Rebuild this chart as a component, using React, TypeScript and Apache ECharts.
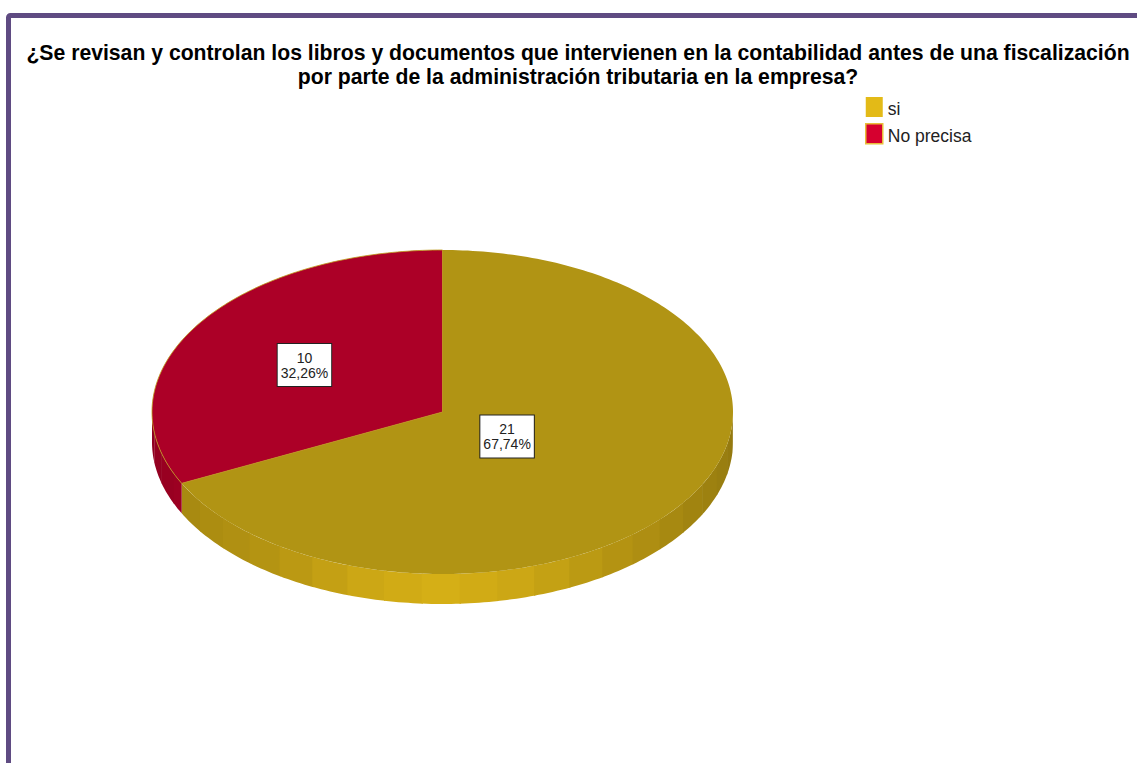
import React, { useEffect, useRef } from "react";
import * as echarts from "echarts";

const titleLines = [
  "¿Se revisan y controlan los libros y documentos que intervienen en la contabilidad antes de una fiscalización",
  "por parte de la administración tributaria en la empresa?",
];
const categories = ["si", "No precisa"];
const counts = [21, 10];
const legendColors = ["#E3BA17", "#D6002F"];
const topColors = ["#B19414", "#AC0027"];
const labelRadii = [0.262, 0.56];
const labelDrop = [2, 1];

const CX = 442.5, CY = 412, RX = 290.5, RY = 162, DEPTH = 30, FACET = 7.5;
const shadeStops: number[][] = [
  [90, 0.64], [120, 0.71], [145, 0.8], [165, 0.9], [180, 0.94],
  [195, 0.9], [215, 0.8], [245, 0.73], [270, 0.66],
];

function shade(deg: number) {
  for (let i = 1; i < shadeStops.length; i++) {
    const [a, fa] = shadeStops[i - 1];
    const [b, fb] = shadeStops[i];
    if (deg <= b) return fa + ((fb - fa) * (deg - a)) / (b - a);
  }
  return 0.66;
}
function scaled(hex: string, f: number) {
  const n = parseInt(hex.slice(1), 16);
  const c = [(n >> 16) & 255, (n >> 8) & 255, n & 255].map((v) => Math.round(v * f));
  return `rgb(${c[0]},${c[1]},${c[2]})`;
}
function rim(deg: number, drop = 0) {
  const t = (deg * Math.PI) / 180;
  return [CX + RX * Math.sin(t), CY - RY * Math.cos(t) + drop];
}
function arc(a: number, b: number, drop = 0) {
  const pts: number[][] = [];
  const n = Math.max(2, Math.ceil(Math.abs(b - a)));
  for (let i = 0; i <= n; i++) pts.push(rim(a + ((b - a) * i) / n, drop));
  return pts;
}

const total = counts.reduce((s, v) => s + v, 0);

function makeRender(index: number) {
  const before = counts.slice(0, index).reduce((s, v) => s + v, 0);
  return (_params: any, api: any) => {
    const value = api.value(0);
    const start = (before / total) * 360;
    const end = ((before + value) / total) * 360;
    const children: any[] = [];
    // side wall: only the front half of the disc is visible
    const lo = Math.max(start, 90);
    const hi = Math.min(end, 270);
    let b = hi;
    while (b > lo + 0.01) {
      const a = Math.max(lo, b - FACET);
      const color = scaled(legendColors[index], shade((a + b) / 2));
      const upper = Math.min(hi, b + 0.25);
      children.push({
        type: "polygon",
        shape: { points: [...arc(a, upper), ...arc(upper, a, DEPTH)] },
        style: { fill: color },
      });
      b = a;
    }
    children.push({
      type: "polygon",
      shape: { points: [[CX, CY], ...arc(start, end)] },
      style: {
        fill: topColors[index],
        stroke: "#BE9A18",
        lineWidth: index === 1 ? 0.8 : 0,
      },
    });
    const mid = ((start + end) / 2) * (Math.PI / 180);
    const k = labelRadii[index];
    const pct = ((value / total) * 100).toFixed(2).replace(".", ",");
    children.push({
      type: "text",
      style: {
        text: `${value}\n${pct}%`,
        x: CX + RX * k * Math.sin(mid),
        y: CY - RY * k * Math.cos(mid) + labelDrop[index],
        align: "center",
        verticalAlign: "middle",
        fill: "#222",
        font: '14px "Liberation Sans"',
        lineHeight: 15,
        backgroundColor: "#fff",
        borderColor: "#222",
        borderWidth: 1,
        padding: [7, 3, 5, 3],
      },
    });
    return { type: "group", children };
  };
}

export default function App() {
  const ref = useRef<HTMLDivElement>(null);
  useEffect(() => {
    document.body.style.margin = "0";
    const chart = echarts.init(ref.current!, undefined, { renderer: "svg" });
    chart.setOption({
      animation: false,
      backgroundColor: "#fff",
      title: {
        text: titleLines.join("\n"),
        left: 578,
        top: 40,
        textAlign: "center",
        padding: 0,
        textStyle: {
          fontFamily: '"Liberation Sans"',
          fontWeight: "bold",
          fontSize: 21.2,
          lineHeight: 24,
          color: "#000",
        },
      },
      legend: {
        orient: "vertical",
        left: 865,
        top: 97,
        padding: 0,
        itemWidth: 17,
        itemHeight: 20,
        itemGap: 5,
        icon: "rect",
        selectedMode: false,
        formatter: "{t|{name}}",
        textStyle: {
          rich: {
            t: {
              fontFamily: '"Liberation Sans"',
              fontSize: 17.5,
              color: "#222",
              padding: [4, 0, 0, 0],
            },
          },
        },
        data: categories.map((name, i) => ({
          name,
          itemStyle: {
            color: legendColors[i],
            borderColor: "#E8BE3A",
            borderWidth: i === 1 ? 1.5 : 0,
          },
        })),
      },
      graphic: [
        {
          type: "rect",
          shape: { x: 8.5, y: 15.5, width: 1300, height: 900, r: 2 },
          style: { fill: "none", stroke: "#5F4B82", lineWidth: 5 },
          silent: true,
        },
      ],
      series: categories.map((name, i) => ({
        type: "custom",
        name,
        coordinateSystem: "none",
        silent: true,
        itemStyle: { color: legendColors[i] },
        data: [counts[i]],
        renderItem: makeRender(i),
      })),
    });
    return () => chart.dispose();
  }, []);
  return <div ref={ref} style={{ width: 1137, height: 763 }} />;
}
